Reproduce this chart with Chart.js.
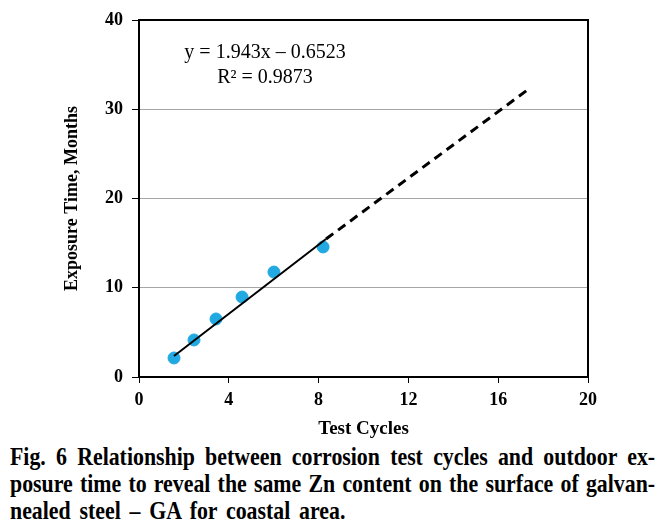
<!DOCTYPE html>
<html>
<head>
<meta charset="utf-8">
<script src="https://cdn.jsdelivr.net/npm/chart.js@4"></script>
<style>
  body { margin: 0; background: #fff; width: 670px; height: 532px; overflow: hidden; }
  .wrapper { position: relative; width: 670px; height: 440px; }
  .caption {
    position: absolute; left: 10px; top: 443px;
    width: 768px; transform: scaleX(0.84); transform-origin: 0 0;
    font-family: "Liberation Serif", "Times New Roman", serif;
    font-weight: bold; font-size: 26px; line-height: 27px; color: #000;
  }
  .caption div { text-align: justify; text-align-last: justify; white-space: nowrap; }
  .caption div.last { text-align-last: left; word-spacing: 4px; }
</style>
</head>
<body>
<div class="wrapper"><canvas id="Chart" width="670" height="440"></canvas></div>
<div class="caption">
  <div>Fig. 6 Relationship between corrosion test cycles and outdoor ex-</div>
  <div>posure time to reveal the same Zn content on the surface of galvan-</div>
  <div class="last">nealed steel – GA for coastal area.</div>
</div>
<script>
// measured points
const cycles = [1.56, 2.45, 3.43, 4.59, 6.01, 8.2];
const months = [2.13, 4.15, 6.5, 8.96, 11.76, 14.57];
// trend line (solid part, then dashed extension)
const fitX = [1.56, 8.33];
const fitY = [2.35, 15.46];
const extX = [8.33, 17.42];
const extY = [15.46, 32.38];
const eqText = ["y = 1.943x \u2013 0.6523", "R\u00b2 = 0.9873"];

function pts(xs, ys) {
  let out = [];
  for (var i = 0; i < xs.length; i++) {
    out.push({x: xs[i], y: ys[i]});
  }
  return out;
}

const serif = '"Liberation Serif", "Times New Roman", serif';

// box round the plot and the equation
const extras = {
  id: 'extras',
  afterDraw(chart) {
    const c = chart.ctx;
    const a = chart.chartArea;
    c.save();
    c.strokeStyle = '#000';
    c.lineWidth = 2;
    c.strokeRect(a.left, a.top, a.right - a.left, a.bottom - a.top);
    c.fillStyle = '#000';
    c.font = '20px ' + serif;
    c.textAlign = 'center';
    c.textBaseline = 'alphabetic';
    c.fillText(eqText[0], 265, 58);
    c.fillText(eqText[1], 265, 83);
    c.restore();
  }
};

var ctx = document.getElementById('Chart');
var myChart = new Chart(ctx, {
  type: 'scatter',
  data: {
    datasets: [{
      data: pts(fitX, fitY),
      showLine: true,
      borderColor: '#000',
      borderWidth: 2,
      pointRadius: 0
    }, {
      data: pts(extX, extY),
      showLine: true,
      borderColor: '#000',
      borderWidth: 3,
      borderDash: [9, 6],
      pointRadius: 0
    }, {
      data: pts(cycles, months),
      backgroundColor: '#22a9e1',
      borderColor: '#22a9e1',
      pointRadius: 6,
      pointHoverRadius: 6
    }]
  },
  options: {
    responsive: false,
    animation: false,
    events: [],
    layout: { padding: { top: 20, right: 82, left: 58, bottom: 0 } },
    plugins: { legend: { display: false }, tooltip: { enabled: false } },
    scales: {
      x: {
        min: 0, max: 20,
        ticks: { stepSize: 4, color: '#000', padding: 7, font: { family: serif, size: 18, weight: 'bold' } },
        grid: { drawOnChartArea: false, tickColor: '#000', tickLength: 6 },
        border: { color: '#000', width: 2 },
        title: { display: true, text: 'Test Cycles', color: '#000', padding: { top: 4, bottom: 0 }, font: { family: serif, size: 19, weight: 'bold' } },
        afterFit(scale) { scale.height = 63; }
      },
      y: {
        min: 0, max: 40,
        ticks: { stepSize: 10, color: '#000', padding: 9, font: { family: serif, size: 18, weight: 'bold' } },
        grid: { color: '#a6a6a6', lineWidth: 1, tickColor: '#000', tickLength: 7 },
        border: { color: '#000', width: 2 },
        title: { display: true, text: 'Exposure Time, Months', color: '#000', padding: { top: 4, bottom: 0 }, font: { family: serif, size: 18, weight: 'bold' } },
        afterFit(scale) { scale.width = 81; }
      }
    }
  },
  plugins: [extras]
});
</script>
</body>
</html>
